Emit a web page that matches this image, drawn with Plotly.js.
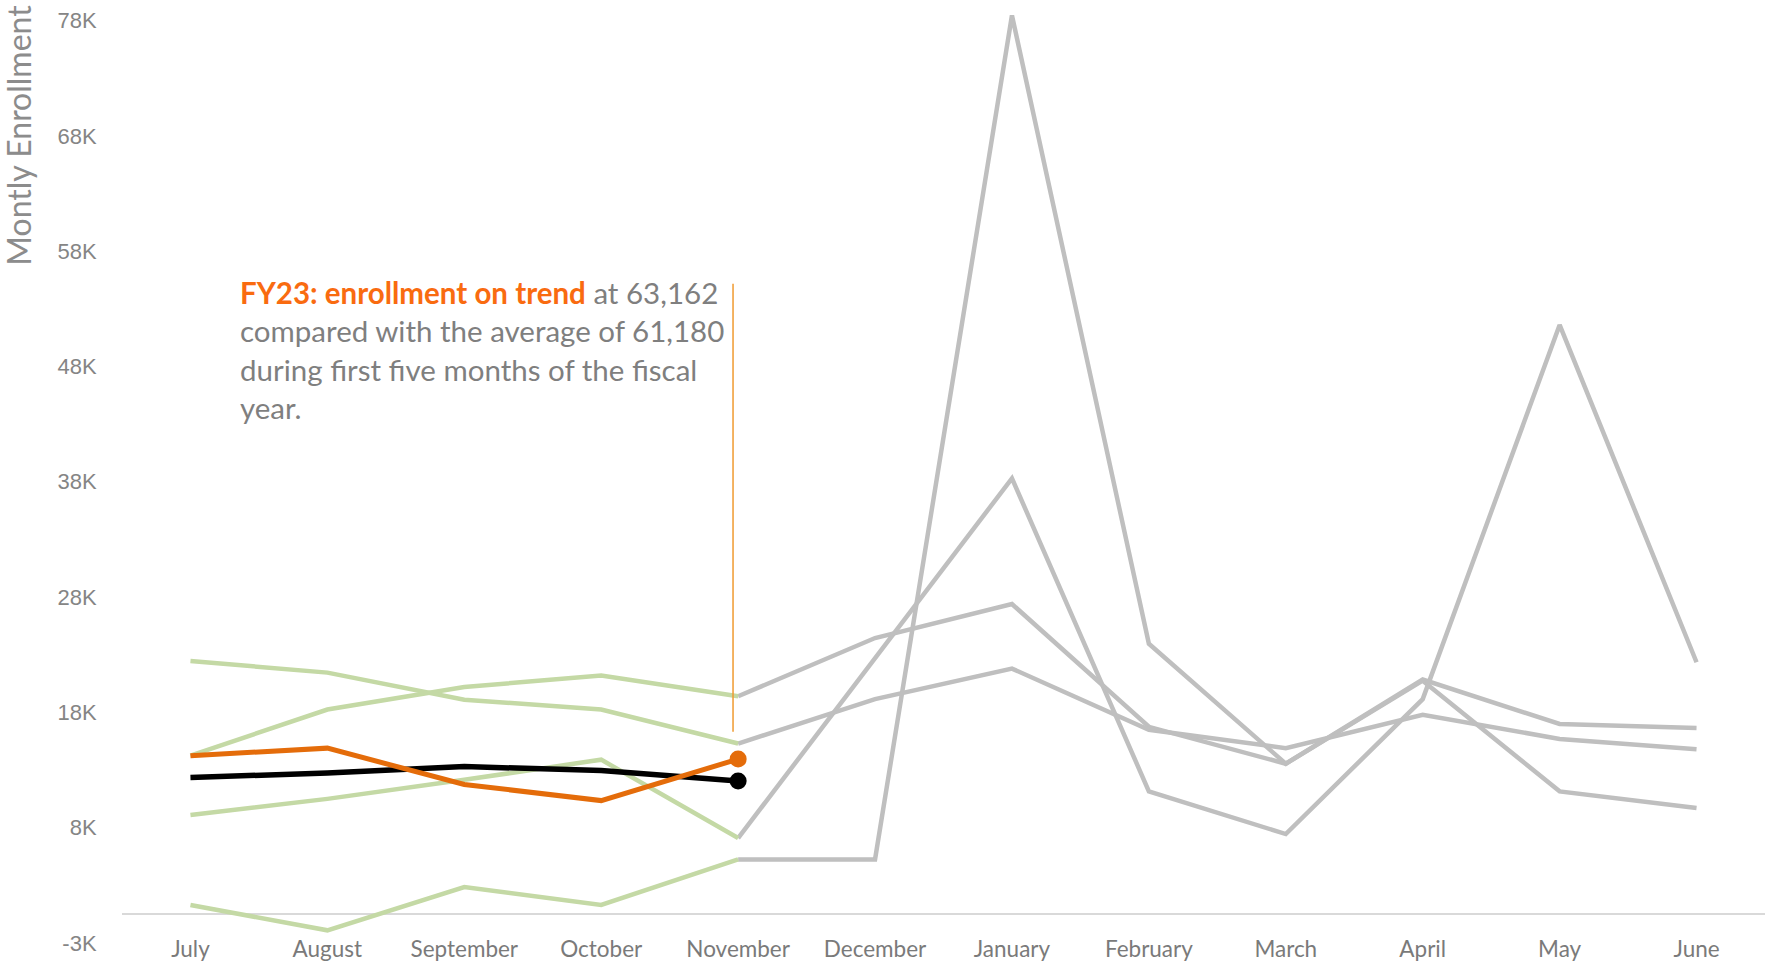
<!DOCTYPE html>
<html>
<head>
<meta charset="utf-8">
<script src="https://cdn.plot.ly/plotly-3.0.1.min.js"></script>
<style>html,body{margin:0;padding:0;background:#fff;}#chart{width:1765px;height:962px;}</style>
</head>
<body>
<div id="chart"></div>
<script>
// ---- data ----
const months = ["July","August","September","October","November","December","January","February","March","April","May","June"];
const yearA = [800, -1400, 2350, 800, 4750, 4750, 77950, 23450, 13050, 20250, 10650, 9200];
const yearB = [8600, 10000, 11650, 13400, 6600, 22200, 37800, 10650, 6950, 18650, 51100, 21850];
const yearC = [13750, 17750, 19700, 20700, 18900, 23950, 26900, 16250, 13050, 20350, 16500, 16150];
const yearD = [21950, 20950, 18600, 17750, 14800, 18650, 21300, 16000, 14400, 17300, 15200, 14300];
const fy23 = [13750, 14400, 11250, 9850, 13450];
const avgPrior = [11850, 12250, 12800, 12450, 11550];
const yTickVals = [-2500, 7500, 17500, 27500, 37500, 47500, 57500, 67500, 77500];
const yTickText = ["-3K", "8K", "18K", "28K", "38K", "48K", "58K", "68K", "78K"];

const GREEN = "#c4d9a5", GRAY = "#bfbfbf", ORANGE = "#e46c0a", BLACK = "#000000";
const histYears = [yearA, yearB, yearC, yearD];
const traces = [];
histYears.forEach(v => {
  traces.push({x: months.slice(4), y: v.slice(4), type: "scatter", mode: "lines",
    line: {color: GRAY, width: 4.5}, hoverinfo: "skip"});
});
histYears.forEach(v => {
  traces.push({x: months.slice(0, 5), y: v.slice(0, 5), type: "scatter", mode: "lines",
    line: {color: GREEN, width: 4.5}, hoverinfo: "skip"});
});
const lastOnly = (arr, col) => ({
  x: [months[arr.length - 1]], y: [arr[arr.length - 1]], type: "scatter", mode: "markers",
  marker: {color: col, size: 17, line: {width: 0}}
});
traces.push({x: months.slice(0, avgPrior.length), y: avgPrior, type: "scatter", mode: "lines",
  line: {color: BLACK, width: 5.5}});
traces.push(lastOnly(avgPrior, BLACK));
traces.push({x: months.slice(0, fy23.length), y: fy23, type: "scatter", mode: "lines",
  line: {color: ORANGE, width: 5}});
traces.push(lastOnly(fy23, ORANGE));

const layout = {
  width: 1765, height: 962,
  margin: {l: 122, r: 0, t: 5, b: 19},
  paper_bgcolor: "#ffffff", plot_bgcolor: "#ffffff",
  showlegend: false,
  xaxis: {type: "category", categoryarray: months, range: [-0.5, 11.5],
    anchor: "free", position: 0.0105,
    showgrid: false, zeroline: false, showline: false, ticks: "",
    tickfont: {family: "Lato, 'Liberation Sans', sans-serif", size: 22.5, color: "#7a7a7a"}},
  yaxis: {range: [-2500, 78850], tickvals: yTickVals, ticktext: yTickText,
    showgrid: false, zeroline: true, zerolinecolor: "#d9d9d9", zerolinewidth: 1.5,
    showline: false, ticks: "outside", ticklen: 20, tickcolor: "rgba(0,0,0,0)",
    tickfont: {family: "'Liberation Sans', Arial, sans-serif", size: 22, color: "#858585"}},
  shapes: [{type: "line", xref: "paper", yref: "paper", x0: 0.3719, x1: 0.3719, y0: 0.2252, y1: 0.7027,
    line: {color: "#f09a30", width: 1.5}}],
  annotations: [
    {xref: "paper", yref: "paper", x: -0.0635, y: 0.8614, xanchor: "center", yanchor: "middle",
     textangle: -90, showarrow: false, text: "Montly Enrollment",
     font: {family: "Lato, 'Liberation Sans', sans-serif", size: 32, color: "#8c8c8c"}},
    {xref: "paper", yref: "paper", x: 0.0703, y: 0.6318, xanchor: "left", yanchor: "middle", align: "left",
     showarrow: false,
     text: '<b><span style="color:#f96b10">FY23: enrollment on trend</span></b> at 63,162<br>compared with the average of 61,180<br>during first five months of the fiscal<br>year.',
     font: {family: "Lato, 'Liberation Sans', sans-serif", size: 29.5, color: "#7f7f7f"}}
  ]
};
Plotly.newPlot("chart", traces, layout, {displayModeBar: false, staticPlot: true});
</script>
</body>
</html>
